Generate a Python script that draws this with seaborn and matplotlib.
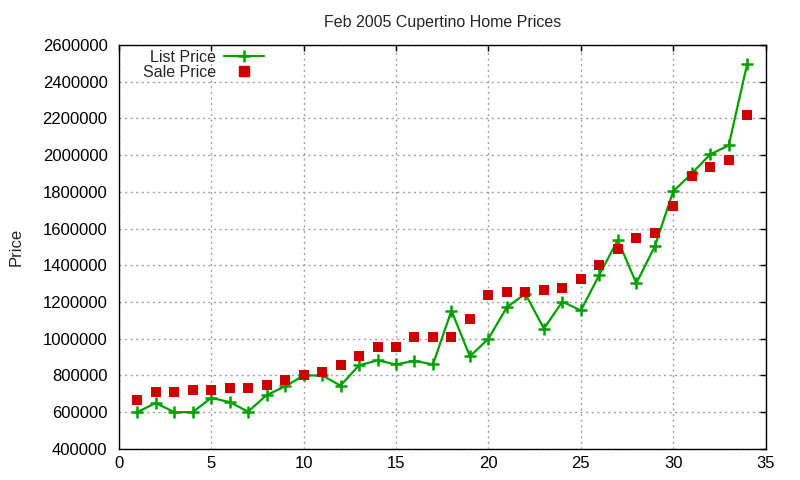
import numpy as np
import pandas as pd
import matplotlib
matplotlib.use('Agg')
import matplotlib.pyplot as plt
import seaborn as sns
from matplotlib.lines import Line2D

# Values
house = list(range(1, 35))
list_price = [600000, 650000, 600000, 600000, 678000, 655000, 603000, 693000, 740000, 800000,
              800000, 745000, 855000, 882000, 860000, 880000, 860000, 1153000, 904000, 1000000,
              1172000, 1245000, 1055000, 1202000, 1154000, 1348000, 1538000, 1302000, 1503000, 1803000,
              1900000, 2004000, 2053000, 2497000]
sale_price = [668000, 712000, 712000, 721000, 721000, 734000, 734000, 748000, 776000, 801000,
              819000, 859000, 905000, 954000, 954000, 1007000, 1012000, 1012000, 1105000, 1236000,
              1252000, 1252000, 1263000, 1279000, 1327000, 1403000, 1490000, 1550000, 1578000, 1722000,
              1885000, 1935000, 1973000, 2220000]

x_ticks = [0, 5, 10, 15, 20, 25, 30, 35]
y_ticks = list(range(400000, 2600001, 200000))

df = pd.DataFrame({'house': house, 'list': list_price, 'sale': sale_price})

GREEN = '#00a000'
RED = '#cc0000'

sns.set_theme(style='white')
plt.rcParams['font.family'] = ['Liberation Sans', 'DejaVu Sans']

fig = plt.figure(figsize=(8, 4.8), dpi=100)
ax = fig.add_axes([0.1484, 0.0648, 0.8087, 0.8415])

sns.lineplot(data=df, x='house', y='list', ax=ax, color=GREEN, lw=1.6,
             marker='+', markersize=9, markeredgewidth=1.8, markeredgecolor=GREEN)
sns.scatterplot(data=df, x='house', y='sale', ax=ax, color=RED, marker='s', s=52,
                linewidth=0, zorder=3)

ax.set_xlim(0, 35)
ax.set_ylim(400000, 2600000)
ax.set_xticks(x_ticks)
ax.set_yticks(y_ticks)
ax.set_xticklabels([str(v) for v in x_ticks], fontsize=12)
ax.set_yticklabels([str(v) for v in y_ticks], fontsize=12)
ax.set_xlabel('')
ax.set_ylabel('Price', fontsize=12, labelpad=14)
ax.set_title('Feb 2005 Cupertino Home Prices', fontsize=11.5, pad=13)

ax.grid(True, color='#a0a0a0', linestyle=(0, (1.5, 2.5)), lw=1.0)
ax.set_axisbelow(True)
ax.tick_params(direction='in', length=4, width=1, top=True, right=True, color='black',
               labelcolor='black', pad=5)
ax.tick_params(axis='y', pad=8)
for s in ax.spines.values():
    s.set_color('black')
    s.set_linewidth(1.0)

handles = [Line2D([], [], color=GREEN, lw=1.6, marker='+', markersize=9, markeredgewidth=1.8),
           Line2D([], [], color=RED, lw=0, marker='s', markersize=7.2)]
ax.legend(handles, ['List Price', 'Sale Price'], loc='upper left', bbox_to_anchor=(0.022, 1.012),
          frameon=False, markerfirst=False, fontsize=11.5, handlelength=2.5, handletextpad=0.5,
          labelspacing=0.0, borderaxespad=0.2)

fig.savefig('out.png', dpi=100)
